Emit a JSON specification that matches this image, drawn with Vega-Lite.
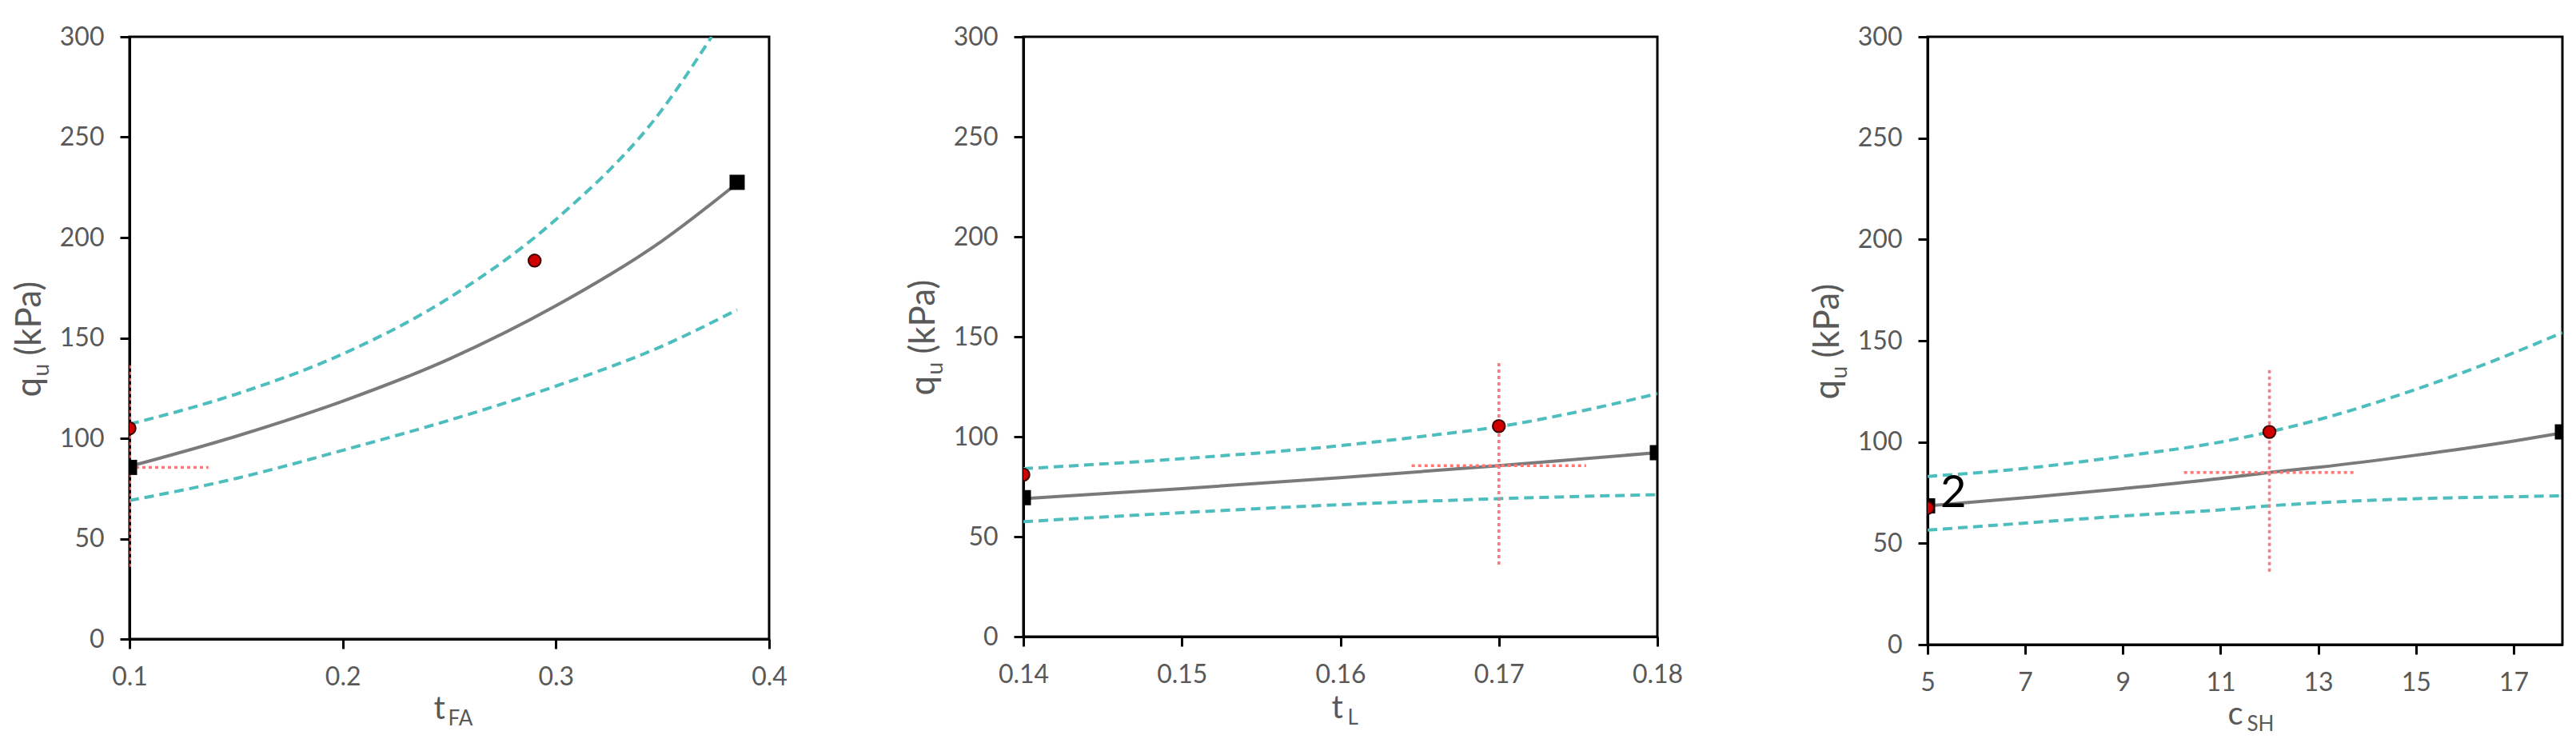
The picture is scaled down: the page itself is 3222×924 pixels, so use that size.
{
  "$schema": "https://vega.github.io/schema/vega-lite/v6.json",
  "padding": {"left": 13, "top": 28, "right": 0, "bottom": 0},
  "background": "white",
  "config": {
    "font": "Lato",
    "view": {"stroke": "black", "strokeWidth": 3},
    "axis": {
      "grid": false, "domainColor": "black", "domainWidth": 3,
      "tickColor": "black", "tickWidth": 3, "tickSize": 12,
      "labelFont": "Lato", "labelFontSize": 32, "labelColor": "#595959", "labelPadding": 20,
      "labelFlush": false, "labelOverlap": false,
      "titleFont": "Lato", "titleColor": "#595959", "titleFontWeight": "normal"
    }
  },
  "datasets": {
    "curves": [
      {"panel": "a", "series": "mean", "x": 0.1, "q": 86},
      {"panel": "a", "series": "mean", "x": 0.15, "q": 101},
      {"panel": "a", "series": "mean", "x": 0.2, "q": 118.5},
      {"panel": "a", "series": "mean", "x": 0.25, "q": 139.5},
      {"panel": "a", "series": "mean", "x": 0.3, "q": 166},
      {"panel": "a", "series": "mean", "x": 0.35, "q": 198.5},
      {"panel": "a", "series": "mean", "x": 0.385, "q": 227},
      {"panel": "a", "series": "upper", "x": 0.1, "q": 107},
      {"panel": "a", "series": "upper", "x": 0.15, "q": 122},
      {"panel": "a", "series": "upper", "x": 0.2, "q": 142},
      {"panel": "a", "series": "upper", "x": 0.25, "q": 170},
      {"panel": "a", "series": "upper", "x": 0.3, "q": 209},
      {"panel": "a", "series": "upper", "x": 0.35, "q": 264},
      {"panel": "a", "series": "upper", "x": 0.373, "q": 300},
      {"panel": "a", "series": "lower", "x": 0.1, "q": 69},
      {"panel": "a", "series": "lower", "x": 0.15, "q": 80},
      {"panel": "a", "series": "lower", "x": 0.2, "q": 94},
      {"panel": "a", "series": "lower", "x": 0.25, "q": 109},
      {"panel": "a", "series": "lower", "x": 0.3, "q": 126},
      {"panel": "a", "series": "lower", "x": 0.35, "q": 146},
      {"panel": "a", "series": "lower", "x": 0.385, "q": 164},
      {"panel": "b", "series": "mean", "x": 0.14, "q": 69},
      {"panel": "b", "series": "mean", "x": 0.15, "q": 74},
      {"panel": "b", "series": "mean", "x": 0.16, "q": 79.5},
      {"panel": "b", "series": "mean", "x": 0.17, "q": 85.5},
      {"panel": "b", "series": "mean", "x": 0.18, "q": 92},
      {"panel": "b", "series": "upper", "x": 0.14, "q": 84},
      {"panel": "b", "series": "upper", "x": 0.15, "q": 89},
      {"panel": "b", "series": "upper", "x": 0.16, "q": 95.5},
      {"panel": "b", "series": "upper", "x": 0.165, "q": 100},
      {"panel": "b", "series": "upper", "x": 0.17, "q": 105},
      {"panel": "b", "series": "upper", "x": 0.175, "q": 112.5},
      {"panel": "b", "series": "upper", "x": 0.18, "q": 121.5},
      {"panel": "b", "series": "lower", "x": 0.14, "q": 57.5},
      {"panel": "b", "series": "lower", "x": 0.15, "q": 62},
      {"panel": "b", "series": "lower", "x": 0.16, "q": 66},
      {"panel": "b", "series": "lower", "x": 0.17, "q": 69},
      {"panel": "b", "series": "lower", "x": 0.18, "q": 71},
      {"panel": "c", "series": "mean", "x": 5, "q": 68.5},
      {"panel": "c", "series": "mean", "x": 7, "q": 72.5},
      {"panel": "c", "series": "mean", "x": 9, "q": 77},
      {"panel": "c", "series": "mean", "x": 11, "q": 82},
      {"panel": "c", "series": "mean", "x": 12, "q": 85},
      {"panel": "c", "series": "mean", "x": 13, "q": 87.5},
      {"panel": "c", "series": "mean", "x": 15, "q": 93.5},
      {"panel": "c", "series": "mean", "x": 17, "q": 100.5},
      {"panel": "c", "series": "mean", "x": 18, "q": 104.5},
      {"panel": "c", "series": "upper", "x": 5, "q": 83},
      {"panel": "c", "series": "upper", "x": 7, "q": 87},
      {"panel": "c", "series": "upper", "x": 9, "q": 93},
      {"panel": "c", "series": "upper", "x": 11, "q": 100},
      {"panel": "c", "series": "upper", "x": 12, "q": 105},
      {"panel": "c", "series": "upper", "x": 13, "q": 111},
      {"panel": "c", "series": "upper", "x": 15, "q": 126},
      {"panel": "c", "series": "upper", "x": 17, "q": 144},
      {"panel": "c", "series": "upper", "x": 18, "q": 154},
      {"panel": "c", "series": "lower", "x": 5, "q": 56.5},
      {"panel": "c", "series": "lower", "x": 7, "q": 60},
      {"panel": "c", "series": "lower", "x": 9, "q": 63.5},
      {"panel": "c", "series": "lower", "x": 11, "q": 66.5},
      {"panel": "c", "series": "lower", "x": 12, "q": 68.5},
      {"panel": "c", "series": "lower", "x": 13, "q": 70},
      {"panel": "c", "series": "lower", "x": 15, "q": 72},
      {"panel": "c", "series": "lower", "x": 17, "q": 73},
      {"panel": "c", "series": "lower", "x": 18, "q": 73.5}
    ],
    "pts": [
      {"panel": "a", "x": 0.1, "q": 85.5, "kind": "square"},
      {"panel": "a", "x": 0.385, "q": 227.5, "kind": "square"},
      {"panel": "a", "x": 0.1, "q": 105, "kind": "circle"},
      {"panel": "a", "x": 0.29, "q": 188.5, "kind": "circle"},
      {"panel": "b", "x": 0.14, "q": 69.5, "kind": "square"},
      {"panel": "b", "x": 0.18, "q": 92, "kind": "square"},
      {"panel": "b", "x": 0.14, "q": 81, "kind": "circle"},
      {"panel": "b", "x": 0.17, "q": 105.3, "kind": "circle"},
      {"panel": "c", "x": 5, "q": 68.5, "kind": "square"},
      {"panel": "c", "x": 18, "q": 105, "kind": "square"},
      {"panel": "c", "x": 5, "q": 67.5, "kind": "circle"},
      {"panel": "c", "x": 12, "q": 105, "kind": "circle"}
    ],
    "cross": [
      {"panel": "a", "x": 0.1, "x2": 0.1, "q": 36, "q2": 137},
      {"panel": "a", "x": 0.1, "x2": 0.137, "q": 85.5, "q2": 85.5},
      {"panel": "b", "x": 0.17, "x2": 0.17, "q": 36, "q2": 137},
      {"panel": "b", "x": 0.1645, "x2": 0.1755, "q": 85.5, "q2": 85.5},
      {"panel": "c", "x": 12, "x2": 12, "q": 36, "q2": 137},
      {"panel": "c", "x": 10.25, "x2": 13.72, "q": 85, "q2": 85}
    ],
    "labels": [
      {"panel": "c", "x": 5, "q": 68.5, "text": "2"}
    ]
  },
  "spacing": 145,
  "hconcat": [
    {
      "width": 800, "height": 753,
      "resolve": {"axis": {"x": "independent", "y": "independent"}},
      "layer": [
        {
          "data": {"name": "curves"},
          "transform": [{"filter": "datum.panel == 'a' && datum.series == 'mean'"}],
          "mark": {"type": "line", "color": "#7A7A7A", "strokeWidth": 4, "interpolate": "monotone", "clip": true},
          "encoding": {
            "x": {"field": "x", "type": "quantitative", "scale": {"domain": [0.1, 0.4], "nice": false, "zero": false},
              "axis": {"orient": "bottom", "title": "t", "values": [0.1, 0.2, 0.3, 0.4], "format": ".1f", "titleFontSize": 40, "titleX": 380, "titleY": 99, "titleAlign": "left", "titleBaseline": "alphabetic", "titleAngle": 0}},
            "y": {"field": "q", "type": "quantitative", "scale": {"domain": [0, 300], "nice": false},
              "axis": {"orient": "left", "title": "q", "values": [0, 50, 100, 150, 200, 250, 300], "titleFontSize": 44, "titleX": -112, "titleY": 450, "titleAlign": "left", "titleBaseline": "alphabetic", "titleAngle": -90}}
          }
        },
        {
          "data": {"name": "curves"},
          "transform": [{"filter": "datum.panel == 'a' && datum.series != 'mean'"}],
          "mark": {"type": "line", "color": "#4DBDBD", "strokeWidth": 4, "strokeDash": [12, 7], "interpolate": "monotone", "clip": true},
          "encoding": {
            "detail": {"field": "series"},
            "x": {"field": "x", "type": "quantitative",
              "axis": {"orient": "bottom", "title": "FA", "labels": false, "ticks": false, "domain": false, "titleFontSize": 26, "titleX": 398, "titleY": 107, "titleAlign": "left", "titleBaseline": "alphabetic", "titleAngle": 0}},
            "y": {"field": "q", "type": "quantitative",
              "axis": {"orient": "left", "title": "u", "labels": false, "ticks": false, "domain": false, "titleFontSize": 28, "titleX": -102, "titleY": 424, "titleAlign": "left", "titleBaseline": "alphabetic", "titleAngle": -90}}
          }
        },
        {
          "data": {"name": "cross"},
          "transform": [{"filter": "datum.panel == 'a'"}],
          "mark": {"type": "rule", "color": "#FF7777", "strokeWidth": 3.5, "strokeDash": [4, 4], "clip": true},
          "encoding": {
            "x": {"field": "x", "type": "quantitative", "axis": null},
            "x2": {"field": "x2"},
            "y": {"field": "q", "type": "quantitative",
              "axis": {"orient": "left", "title": "(kPa)", "labels": false, "ticks": false, "domain": false, "titleFontSize": 44, "titleX": -112, "titleY": 398, "titleAlign": "left", "titleBaseline": "alphabetic", "titleAngle": -90}},
            "y2": {"field": "q2"}
          }
        },
        {
          "data": {"name": "pts"},
          "transform": [{"filter": "datum.panel == 'a' && datum.kind == 'square'"}],
          "mark": {"type": "point", "shape": "square", "filled": true, "color": "black", "size": 360, "opacity": 1, "clip": true},
          "encoding": {
            "x": {"field": "x", "type": "quantitative", "axis": null},
            "y": {"field": "q", "type": "quantitative", "axis": null}
          }
        },
        {
          "data": {"name": "pts"},
          "transform": [{"filter": "datum.panel == 'a' && datum.kind == 'circle'"}],
          "mark": {"type": "point", "shape": "circle", "filled": true, "fill": "#D00000", "stroke": "#3A0000", "strokeWidth": 2, "size": 240, "opacity": 1, "clip": true},
          "encoding": {
            "x": {"field": "x", "type": "quantitative", "axis": null},
            "y": {"field": "q", "type": "quantitative", "axis": null}
          }
        }
      ]
    },
    {
      "spacing": 155,
      "hconcat": [
        {
          "width": 793, "height": 750,
          "resolve": {"axis": {"x": "independent", "y": "independent"}},
          "layer": [
            {
              "data": {"name": "curves"},
              "transform": [{"filter": "datum.panel == 'b' && datum.series == 'mean'"}],
              "mark": {"type": "line", "color": "#7A7A7A", "strokeWidth": 4, "interpolate": "monotone", "clip": true},
              "encoding": {
                "x": {"field": "x", "type": "quantitative", "scale": {"domain": [0.14, 0.18], "nice": false, "zero": false},
                  "axis": {"orient": "bottom", "title": "t", "values": [0.14, 0.15, 0.16, 0.17, 0.18], "format": ".2f", "titleFontSize": 40, "titleX": 385, "titleY": 101, "titleAlign": "left", "titleBaseline": "alphabetic", "titleAngle": 0}},
                "y": {"field": "q", "type": "quantitative", "scale": {"domain": [0, 300], "nice": false},
                  "axis": {"orient": "left", "title": "q", "values": [0, 50, 100, 150, 200, 250, 300], "titleFontSize": 44, "titleX": -112, "titleY": 448, "titleAlign": "left", "titleBaseline": "alphabetic", "titleAngle": -90}}
              }
            },
            {
              "data": {"name": "curves"},
              "transform": [{"filter": "datum.panel == 'b' && datum.series != 'mean'"}],
              "mark": {"type": "line", "color": "#4DBDBD", "strokeWidth": 4, "strokeDash": [12, 7], "interpolate": "monotone", "clip": true},
              "encoding": {
                "detail": {"field": "series"},
                "x": {"field": "x", "type": "quantitative",
                  "axis": {"orient": "bottom", "title": "L", "labels": false, "ticks": false, "domain": false, "titleFontSize": 26, "titleX": 405, "titleY": 109, "titleAlign": "left", "titleBaseline": "alphabetic", "titleAngle": 0}},
                "y": {"field": "q", "type": "quantitative",
                  "axis": {"orient": "left", "title": "u", "labels": false, "ticks": false, "domain": false, "titleFontSize": 28, "titleX": -102, "titleY": 422, "titleAlign": "left", "titleBaseline": "alphabetic", "titleAngle": -90}}
              }
            },
            {
              "data": {"name": "cross"},
              "transform": [{"filter": "datum.panel == 'b'"}],
              "mark": {"type": "rule", "color": "#FF7777", "strokeWidth": 3.5, "strokeDash": [4, 4], "clip": true},
              "encoding": {
                "x": {"field": "x", "type": "quantitative", "axis": null},
                "x2": {"field": "x2"},
                "y": {"field": "q", "type": "quantitative",
                  "axis": {"orient": "left", "title": "(kPa)", "labels": false, "ticks": false, "domain": false, "titleFontSize": 44, "titleX": -112, "titleY": 396, "titleAlign": "left", "titleBaseline": "alphabetic", "titleAngle": -90}},
                "y2": {"field": "q2"}
              }
            },
            {
              "data": {"name": "pts"},
              "transform": [{"filter": "datum.panel == 'b' && datum.kind == 'square'"}],
              "mark": {"type": "point", "shape": "square", "filled": true, "color": "black", "size": 360, "opacity": 1, "clip": true},
              "encoding": {
                "x": {"field": "x", "type": "quantitative", "axis": null},
                "y": {"field": "q", "type": "quantitative", "axis": null}
              }
            },
            {
              "data": {"name": "pts"},
              "transform": [{"filter": "datum.panel == 'b' && datum.kind == 'circle'"}],
              "mark": {"type": "point", "shape": "circle", "filled": true, "fill": "#D00000", "stroke": "#3A0000", "strokeWidth": 2, "size": 240, "opacity": 1, "clip": true},
              "encoding": {
                "x": {"field": "x", "type": "quantitative", "axis": null},
                "y": {"field": "q", "type": "quantitative", "axis": null}
              }
            }
          ]
        },
        {
          "width": 794, "height": 760,
          "resolve": {"axis": {"x": "independent", "y": "independent"}},
          "layer": [
            {
              "data": {"name": "curves"},
              "transform": [{"filter": "datum.panel == 'c' && datum.series == 'mean'"}],
              "mark": {"type": "line", "color": "#7A7A7A", "strokeWidth": 4, "interpolate": "monotone", "clip": true},
              "encoding": {
                "x": {"field": "x", "type": "quantitative", "scale": {"domain": [5, 18], "nice": false, "zero": false},
                  "axis": {"orient": "bottom", "title": "c", "values": [5, 7, 9, 11, 13, 15, 17], "format": "d", "titleFontSize": 40, "titleX": 375, "titleY": 99, "titleAlign": "left", "titleBaseline": "alphabetic", "titleAngle": 0}},
                "y": {"field": "q", "type": "quantitative", "scale": {"domain": [0, 300], "nice": false},
                  "axis": {"orient": "left", "title": "q", "values": [0, 50, 100, 150, 200, 250, 300], "titleFontSize": 44, "titleX": -112, "titleY": 453, "titleAlign": "left", "titleBaseline": "alphabetic", "titleAngle": -90}}
              }
            },
            {
              "data": {"name": "curves"},
              "transform": [{"filter": "datum.panel == 'c' && datum.series != 'mean'"}],
              "mark": {"type": "line", "color": "#4DBDBD", "strokeWidth": 4, "strokeDash": [12, 7], "interpolate": "monotone", "clip": true},
              "encoding": {
                "detail": {"field": "series"},
                "x": {"field": "x", "type": "quantitative",
                  "axis": {"orient": "bottom", "title": "SH", "labels": false, "ticks": false, "domain": false, "titleFontSize": 26, "titleX": 399, "titleY": 107, "titleAlign": "left", "titleBaseline": "alphabetic", "titleAngle": 0}},
                "y": {"field": "q", "type": "quantitative",
                  "axis": {"orient": "left", "title": "u", "labels": false, "ticks": false, "domain": false, "titleFontSize": 28, "titleX": -102, "titleY": 427, "titleAlign": "left", "titleBaseline": "alphabetic", "titleAngle": -90}}
              }
            },
            {
              "data": {"name": "cross"},
              "transform": [{"filter": "datum.panel == 'c'"}],
              "mark": {"type": "rule", "color": "#FF7777", "strokeWidth": 3.5, "strokeDash": [4, 4], "clip": true},
              "encoding": {
                "x": {"field": "x", "type": "quantitative", "axis": null},
                "x2": {"field": "x2"},
                "y": {"field": "q", "type": "quantitative",
                  "axis": {"orient": "left", "title": "(kPa)", "labels": false, "ticks": false, "domain": false, "titleFontSize": 44, "titleX": -112, "titleY": 401, "titleAlign": "left", "titleBaseline": "alphabetic", "titleAngle": -90}},
                "y2": {"field": "q2"}
              }
            },
            {
              "data": {"name": "pts"},
              "transform": [{"filter": "datum.panel == 'c' && datum.kind == 'square'"}],
              "mark": {"type": "point", "shape": "square", "filled": true, "color": "black", "size": 360, "opacity": 1, "clip": true},
              "encoding": {
                "x": {"field": "x", "type": "quantitative", "axis": null},
                "y": {"field": "q", "type": "quantitative", "axis": null}
              }
            },
            {
              "data": {"name": "pts"},
              "transform": [{"filter": "datum.panel == 'c' && datum.kind == 'circle'"}],
              "mark": {"type": "point", "shape": "circle", "filled": true, "fill": "#D00000", "stroke": "#3A0000", "strokeWidth": 2, "size": 240, "opacity": 1, "clip": true},
              "encoding": {
                "x": {"field": "x", "type": "quantitative", "axis": null},
                "y": {"field": "q", "type": "quantitative", "axis": null}
              }
            },
            {
              "data": {"name": "labels"},
              "transform": [{"filter": "datum.panel == 'c'"}],
              "mark": {"type": "text", "font": "Lato", "fontSize": 56, "color": "black", "align": "left", "baseline": "alphabetic", "dx": 16, "dy": 2},
              "encoding": {
                "x": {"field": "x", "type": "quantitative", "axis": null},
                "y": {"field": "q", "type": "quantitative", "axis": null},
                "text": {"field": "text"}
              }
            }
          ]
        }
      ]
    }
  ]
}
